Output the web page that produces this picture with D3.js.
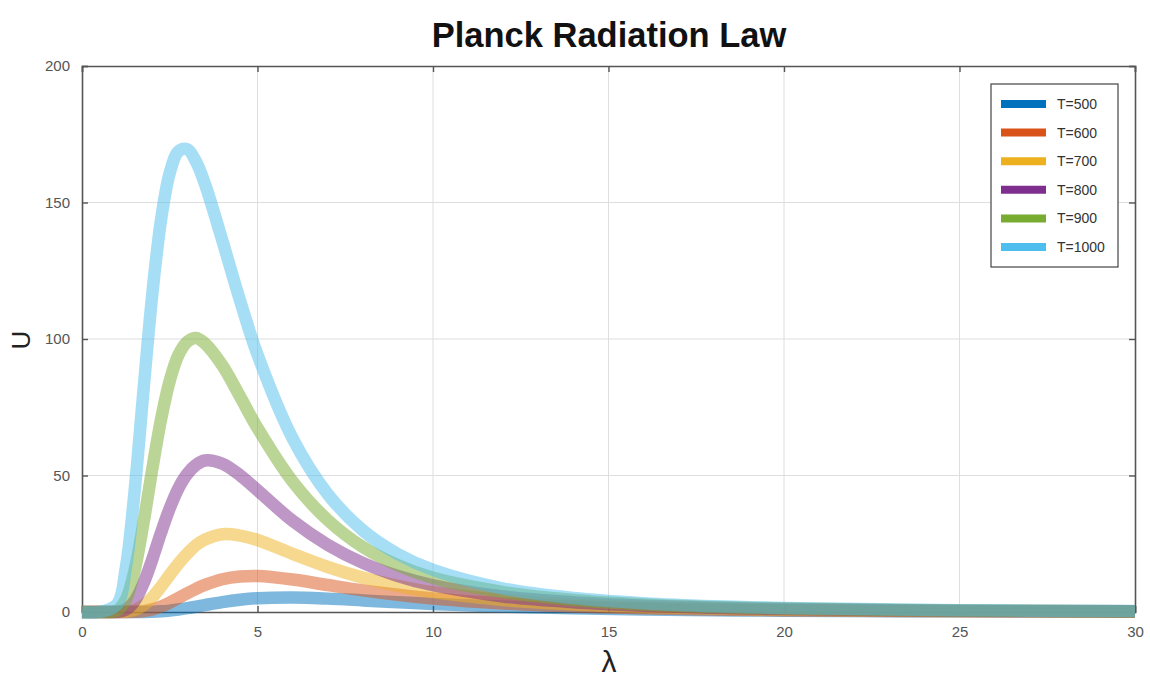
<!DOCTYPE html>
<html>
<head>
<meta charset="utf-8">
<script src="https://cdn.jsdelivr.net/npm/d3@7"></script>
<style>
  body { margin: 0; background: #fff; }
  svg { display: block; }
  text { font-family: "Liberation Sans", Arial, sans-serif; }
</style>
</head>
<body>
<svg id="chart" width="1150" height="678"></svg>
<script>
// ---- data ----
const lambda = [0, 0.5, 1, 1.25, 1.5, 1.75, 2, 2.25, 2.5, 2.75, 3, 3.25, 3.5, 4, 4.5, 5, 6, 7, 8, 9, 10, 12, 14, 16, 18, 20, 25, 30];
const seriesNames = ["T=500", "T=600", "T=700", "T=800", "T=900", "T=1000"];
const u500  = [0, 0, 0, 0, 0.003, 0.02, 0.09, 0.24, 0.51, 0.90, 1.39, 1.95, 2.53, 3.63, 4.48, 5.03, 5.30, 4.90, 4.25, 3.57, 2.95, 1.99, 1.35, 0.93, 0.66, 0.48, 0.24, 0.13];
const u600  = [0, 0, 0, 0.008, 0.074, 0.33, 0.96, 2.01, 3.46, 5.13, 6.87, 8.49, 9.92, 12.0, 13.0, 13.2, 11.9, 9.88, 7.93, 6.30, 4.95, 3.13, 2.04, 1.36, 0.96, 0.67, 0.31, 0.17];
const u700  = [0, 0, 0.01, 0.11, 0.71, 2.39, 5.31, 9.26, 13.6, 17.8, 21.4, 24.5, 26.5, 28.5, 28.0, 26.4, 21.3, 16.5, 12.6, 9.6, 7.26, 4.4, 2.77, 1.85, 1.24, 0.86, 0.40, 0.21];
const u800  = [0, 0, 0.08, 0.91, 4.04, 10.4, 19.2, 29.0, 38.0, 45.4, 50.6, 53.9, 55.5, 54.3, 50.1, 44.6, 33.4, 24.6, 18.0, 13.2, 9.8, 5.7, 3.6, 2.33, 1.54, 1.06, 0.48, 0.25];
const u900  = [0, 0, 0.56, 4.52, 15.3, 32.5, 52.2, 70.4, 84.7, 94.2, 99.0, 100.4, 98.4, 90.3, 79.0, 67.4, 47.8, 33.7, 23.8, 17.1, 12.5, 7.3, 4.4, 2.77, 1.84, 1.26, 0.57, 0.30];
const u1000 = [0, 0, 2.8, 16.3, 44.5, 80.9, 116.1, 143.5, 160.8, 168.8, 169.5, 164.9, 156.9, 136.0, 114.2, 94.3, 63.6, 43.2, 29.9, 21.2, 15.4, 8.6, 5.1, 3.2, 2.1, 1.5, 0.65, 0.33];
const xTicks = [0, 5, 10, 15, 20, 25, 30];
const yTicks = [0, 50, 100, 150, 200];
const colors = ["#0072BD", "#D95319", "#EDB120", "#7E2F8E", "#77AC30", "#4DBEEE"];

const allSeries = [u500, u600, u700, u800, u900, u1000];

// ---- layout ----
const svg = d3.select("#chart");
const L = 82, R = 1135, T = 66, B = 612;
const x = d3.scaleLinear().domain([0, 30]).range([L, R]);
const y = d3.scaleLinear().domain([0, 200]).range([B, T]);

// grid
const grid = svg.append("g");
grid.selectAll("line.gx").data(xTicks.slice(1, -1)).join("line")
  .attr("x1", d => x(d)).attr("x2", d => x(d)).attr("y1", T).attr("y2", B)
  .attr("stroke", "#dedede").attr("stroke-width", 1);
grid.selectAll("line.gy").data(yTicks.slice(1, -1)).join("line")
  .attr("y1", d => y(d)).attr("y2", d => y(d)).attr("x1", L).attr("x2", R)
  .attr("stroke", "#dedede").attr("stroke-width", 1);

// axes (ticks inside, on all four sides)
const axCol = "#555";
const axB = svg.append("g").attr("transform", `translate(0,${B})`)
  .call(d3.axisBottom(x).tickValues(xTicks).tickSize(-6).tickPadding(14));
const axT = svg.append("g").attr("transform", `translate(0,${T})`)
  .call(d3.axisTop(x).tickValues(xTicks).tickSize(-6).tickFormat(""));
const axL = svg.append("g").attr("transform", `translate(${L},0)`)
  .call(d3.axisLeft(y).tickValues(yTicks).tickSize(-6).tickPadding(12));
const axR = svg.append("g").attr("transform", `translate(${R},0)`)
  .call(d3.axisRight(y).tickValues(yTicks).tickSize(-6).tickFormat(""));
[axB, axT, axL, axR].forEach(a => {
  a.select(".domain").attr("stroke", axCol).attr("stroke-width", 1.6);
  a.selectAll(".tick line").attr("stroke", axCol).attr("stroke-width", 1.4);
  a.selectAll(".tick text").attr("fill", "#555").style("font-size", "15px")
    .style("font-family", "'Liberation Sans', Arial, sans-serif");
});

// curves
const line = d3.line().x((d, i) => x(lambda[i])).y(d => y(d)).curve(d3.curveCatmullRom.alpha(0.5));
svg.append("g").selectAll("path").data(allSeries).join("path")
  .attr("d", d => line(d))
  .attr("fill", "none")
  .attr("stroke", (d, i) => colors[i])
  .attr("stroke-width", 12.5)
  .attr("stroke-opacity", 0.5)
  .attr("stroke-linejoin", "round");

// title & labels
svg.append("text").attr("x", 609).attr("y", 47).attr("text-anchor", "middle")
  .style("font-size", "34.5px").style("font-weight", "bold").attr("fill", "#111")
  .text("Planck Radiation Law");
svg.append("text").attr("transform", "translate(30,340) rotate(-90)")
  .attr("text-anchor", "middle").style("font-size", "26px").attr("fill", "#222")
  .text("U");
svg.append("text").attr("x", 609).attr("y", 672).attr("text-anchor", "middle")
  .style("font-size", "30px").attr("fill", "#222").text("λ");

// legend
const lg = svg.append("g");
lg.append("rect").attr("x", 991).attr("y", 84).attr("width", 127).attr("height", 183)
  .attr("fill", "#fff").attr("stroke", "#444").attr("stroke-width", 1.2);
const rowY = d3.scalePoint().domain(seriesNames).range([104, 247]);
const items = lg.selectAll("g.item").data(seriesNames).join("g")
  .attr("transform", d => `translate(0,${rowY(d)})`);
items.append("line").attr("x1", 1001).attr("x2", 1046).attr("y1", 0).attr("y2", 0)
  .attr("stroke", (d, i) => colors[i]).attr("stroke-width", 8);
items.append("text").attr("x", 1057).attr("y", 5)
  .style("font-size", "14px").attr("fill", "#333").text(d => d);
</script>
</body>
</html>
